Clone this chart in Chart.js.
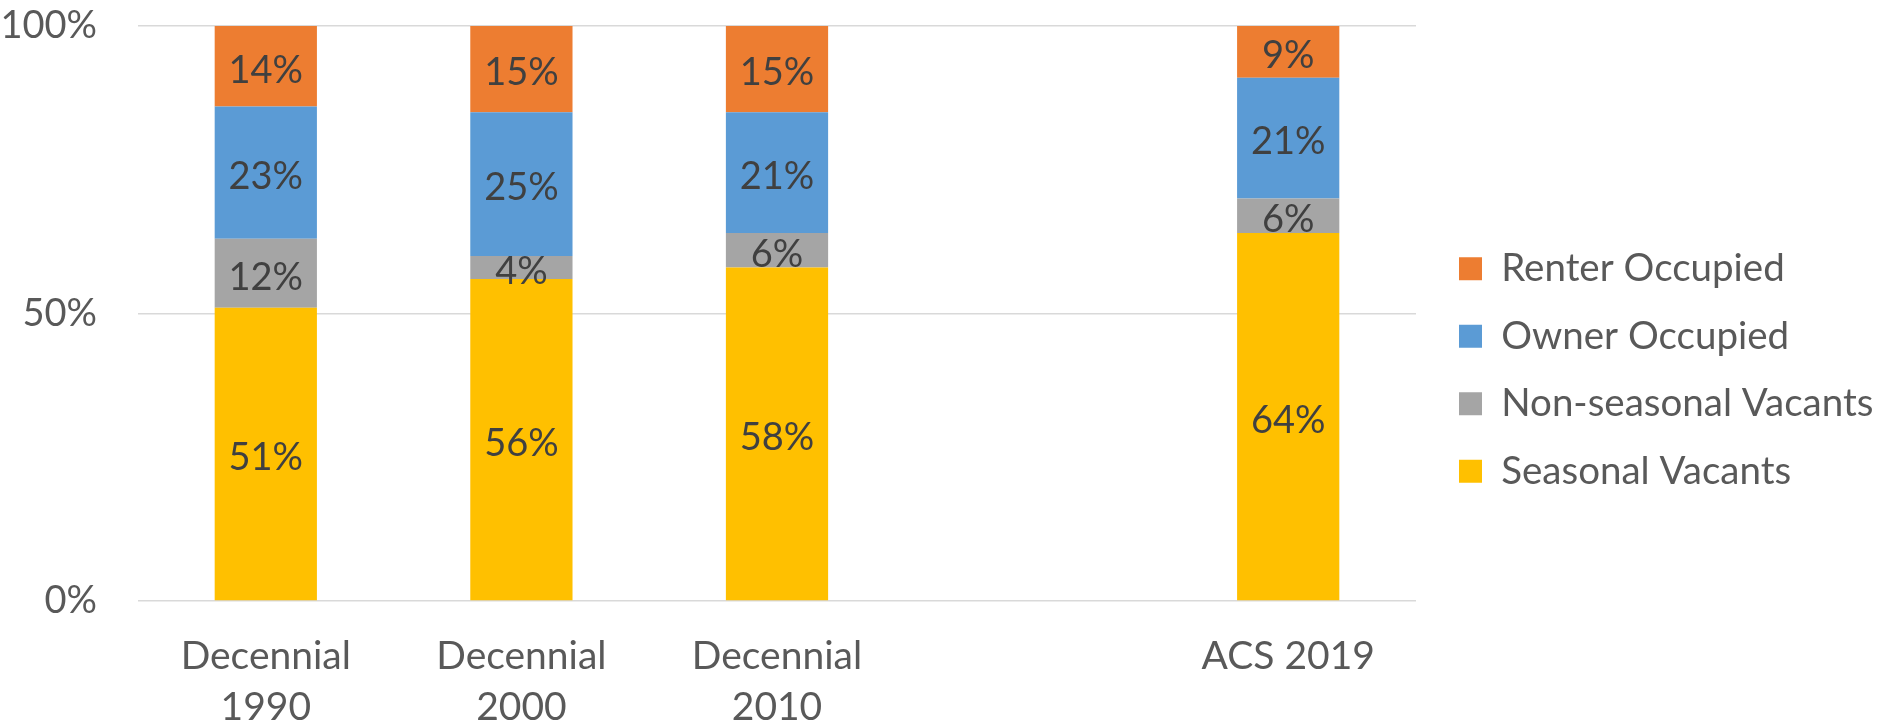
<!DOCTYPE html>
<html>
<head>
<meta charset="utf-8">
<script src="https://cdn.jsdelivr.net/npm/chart.js@4/dist/chart.umd.min.js"></script>
<style>
  html, body { margin: 0; padding: 0; background: #ffffff; }
  #wrap { width: 1885px; height: 726px; }
</style>
</head>
<body>
<div id="wrap"><canvas id="c" width="1885" height="726"></canvas></div>
<script>
// Housing unit composition by survey (shares of all units, %)
const categories = [['Decennial', '1990'], ['Decennial', '2000'], ['Decennial', '2010'], '', 'ACS 2019'];
const seasonalVacants = [51, 56, 58, null, 64];
const nonSeasonalVacants = [12, 4, 6, null, 6];
const ownerOccupied = [23, 25, 21, null, 21];
const renterOccupied = [14, 15, 15, null, 9];
const yTicks = [0, 50, 100];

const FONT = 'Lato, Carlito, Calibri, sans-serif';
const AXIS_COLOR = '#595959';
const LABEL_COLOR = '#404040';

// Writes each segment's share in the middle of its bar segment
const segmentLabels = {
  id: 'segmentLabels',
  afterDatasetsDraw(chart) {
    const ctx = chart.ctx;
    ctx.save();
    ctx.font = '38px ' + FONT;
    ctx.fillStyle = LABEL_COLOR;
    ctx.textAlign = 'center';
    ctx.textBaseline = 'middle';
    chart.data.datasets.forEach((ds, di) => {
      const meta = chart.getDatasetMeta(di);
      meta.data.forEach((bar, i) => {
        const v = ds.data[i];
        if (v === null || v === undefined) return;
        ctx.fillText(v + '%', bar.x, (bar.y + bar.base) / 2 + 4);
      });
    });
    ctx.restore();
  }
};

// Fixed legend column width on the right, with its items pushed a little right
const legendPlacement = {
  id: 'legendPlacement',
  beforeInit(chart) {
    const legend = chart.legend;
    const origFit = legend.fit;
    legend.fit = function () {
      origFit.call(this);
      this.width = 469;
    };
  },
  afterLayout(chart) {
    chart.legend.left += 14;
    chart.legend.right += 14;
  }
};

new Chart(document.getElementById('c'), {
  type: 'bar',
  data: {
    labels: categories,
    datasets: [
      { label: 'Seasonal Vacants', data: seasonalVacants, backgroundColor: '#FFC000' },
      { label: 'Non-seasonal Vacants', data: nonSeasonalVacants, backgroundColor: '#A5A5A5' },
      { label: 'Owner Occupied', data: ownerOccupied, backgroundColor: '#5B9BD5' },
      { label: 'Renter Occupied', data: renterOccupied, backgroundColor: '#ED7D31' }
    ]
  },
  options: {
    responsive: false,
    animation: false,
    devicePixelRatio: 1,
    layout: { padding: { top: 14, right: 0, bottom: 0, left: 0 } },
    datasets: {
      bar: { categoryPercentage: 1.0, barPercentage: 0.4, borderWidth: 0 }
    },
    scales: {
      x: {
        stacked: true,
        grid: { display: false, drawTicks: false },
        border: { display: false },
        ticks: {
          color: AXIS_COLOR,
          font: { family: FONT, size: 39, lineHeight: 1.31 },
          padding: 30,
          maxRotation: 0,
          autoSkip: false
        },
        afterFit(scale) { scale.height = 125; }
      },
      y: {
        stacked: true,
        min: 0,
        max: 100,
        afterBuildTicks(scale) { scale.ticks = yTicks.map(v => ({ value: v })); },
        grid: { color: '#D9D9D9', lineWidth: 1.5, drawTicks: false },
        border: { display: false },
        ticks: {
          color: AXIS_COLOR,
          font: { family: FONT, size: 38 },
          padding: 41,
          callback: v => v + '%'
        },
        afterFit(scale) {
          scale.width = 138;
          scale.paddingTop = 26;
          scale.paddingBottom = 26;
        }
      }
    },
    plugins: {
      legend: {
        position: 'right',
        reverse: true,
        labels: {
          boxWidth: 23,
          boxHeight: 23,
          padding: 29,
          color: AXIS_COLOR,
          font: { family: FONT, size: 38.5 }
        }
      },
      tooltip: { enabled: false }
    }
  },
  plugins: [segmentLabels, legendPlacement]
});
</script>
</body>
</html>
